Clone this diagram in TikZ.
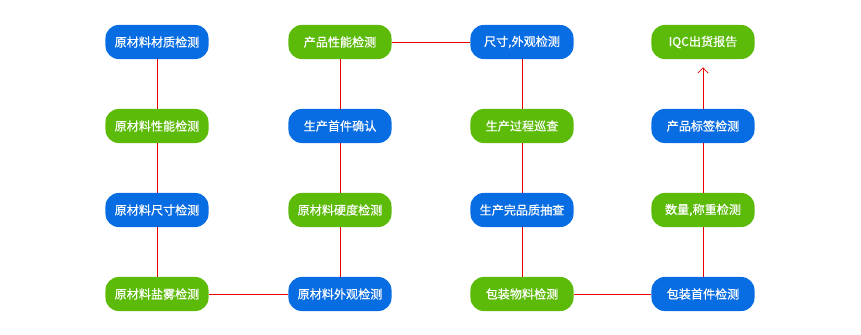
\documentclass[tikz,border=0pt]{standalone}
\usepackage{fontspec}
\newfontfamily\cjk[FakeBold=0.6]{Noto Sans CJK SC}
\usetikzlibrary{arrows.meta}
\definecolor{boxblue}{RGB}{8,108,226}
\definecolor{boxgreen}{RGB}{92,186,8}
\definecolor{linkred}{RGB}{235,0,0}

\begin{document}
\begin{tikzpicture}[
    x=0.025cm, y=-0.025cm,
    every node/.style={
        rounded corners=0.33cm,
        align=center,
        text=white,
        font=\cjk\fontsize{8.6pt}{10pt}\selectfont,
        minimum width=2.575cm,
        minimum height=0.85cm,
        inner sep=0pt
    },
    bluebox/.style={fill=boxblue},
    greenbox/.style={fill=boxgreen},
    link/.style={draw=linkred, line width=0.6pt},
    >={Straight Barb[length=1.3mm,width=2.6mm]}
]
\useasboundingbox (0,0) rectangle (861,335);

% Column 1
\node[bluebox] (mat_quality) at (157,42) {原材料材质检测};
\node[greenbox] (mat_perf) at (157,126) {原材料性能检测};
\node[bluebox] (mat_size) at (157,210) {原材料尺寸检测};
\node[greenbox] (mat_salt) at (157,294) {原材料盐雾检测};

% Column 2
\node[greenbox] (prod_perf) at (340,42) {产品性能检测};
\node[bluebox] (first_piece) at (340,126) {生产首件确认};
\node[greenbox] (mat_hard) at (340,210) {原材料硬度检测};
\node[bluebox] (mat_look) at (340,294) {原材料外观检测};

% Column 3
\node[bluebox] (size_look) at (522,42) {尺寸,外观检测};
\node[greenbox] (patrol) at (522,126) {生产过程巡查};
\node[bluebox] (sample) at (522,210) {生产完品质抽查};
\node[greenbox] (pack_mat) at (522,294) {包装物料检测};

% Column 4
\node[greenbox] (iqc) at (703,42) {IQC出货报告};
\node[bluebox] (label) at (703,126) {产品标签检测};
\node[greenbox] (weight) at (703,210) {数量,称重检测};
\node[bluebox] (pack_first) at (703,294) {包装首件检测};

% Connections
\draw[link] (mat_quality.south) -- (mat_perf.north);
\draw[link] (mat_perf.south) -- (mat_size.north);
\draw[link] (mat_size.south) -- (mat_salt.north);
\draw[link] (mat_salt.east) -- (mat_look.west);

\draw[link] (mat_look.north) -- (mat_hard.south);
\draw[link] (mat_hard.north) -- (first_piece.south);
\draw[link] (first_piece.north) -- (prod_perf.south);
\draw[link] (prod_perf.east) -- (size_look.west);

\draw[link] (size_look.south) -- (patrol.north);
\draw[link] (patrol.south) -- (sample.north);
\draw[link] (sample.south) -- (pack_mat.north);
\draw[link] (pack_mat.east) -- (pack_first.west);

\draw[link] (pack_first.north) -- (weight.south);
\draw[link] (weight.north) -- (label.south);
\draw[link,->,shorten >=0.2cm] (label.north) -- (iqc.south);

\end{tikzpicture}
\end{document}
